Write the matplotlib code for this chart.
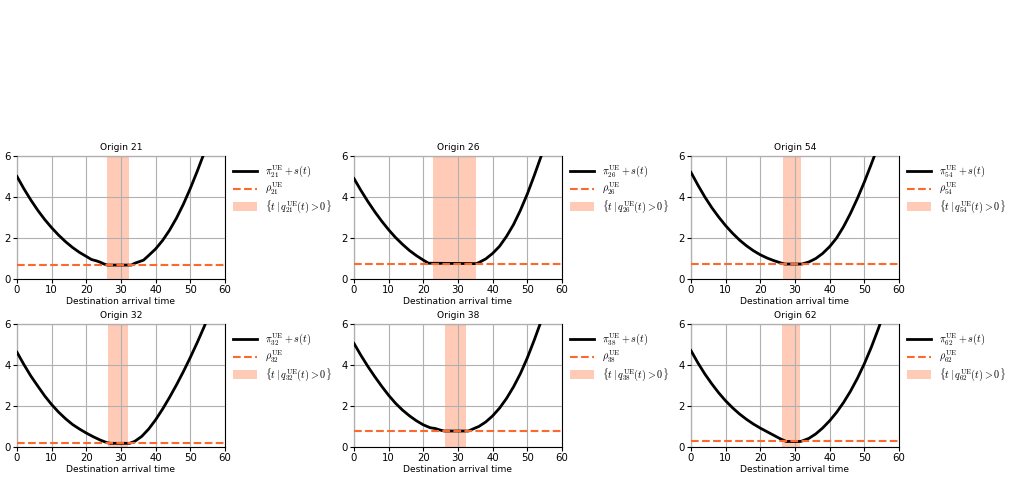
import matplotlib
matplotlib.use("Agg")
import matplotlib.pyplot as plt
from matplotlib.lines import Line2D
from matplotlib.patches import Patch

plt.rcParams['mathtext.fontset'] = 'cm'

origins = [21, 26, 54, 32, 38, 62]

t_21 = [0, 2, 4, 6, 8, 10, 12, 14, 16, 18, 20, 21.5, 23, 24, 25, 26, 33, 34, 35.5, 36.5, 38, 40, 42, 44, 46, 48, 50, 52, 54]
v_21 = [5.0, 4.4, 3.85, 3.35, 2.9, 2.5, 2.14, 1.82, 1.54, 1.3, 1.1, 0.95, 0.88, 0.82, 0.74, 0.68, 0.68, 0.77, 0.86, 0.92, 1.15, 1.47, 1.88, 2.38, 2.97, 3.65, 4.42, 5.26, 6.15]

t_26 = [0, 2, 4, 6, 8, 10, 12, 14, 16, 18, 20, 21.5, 35.3, 36, 38, 40, 42, 44, 46, 48, 50, 52, 54]
v_26 = [4.9, 4.32, 3.78, 3.28, 2.82, 2.4, 2.02, 1.69, 1.39, 1.14, 0.92, 0.77, 0.75, 0.8, 0.98, 1.25, 1.6, 2.08, 2.65, 3.35, 4.15, 5.05, 6.0]

t_54 = [0, 2, 4, 6, 8, 10, 12, 14, 16, 18, 20, 22, 24, 26, 27, 32, 34, 36, 38, 40, 42, 44, 46, 48, 50, 52, 54]
v_54 = [5.2, 4.58, 4.0, 3.48, 3.02, 2.6, 2.23, 1.9, 1.62, 1.38, 1.18, 1.02, 0.89, 0.78, 0.73, 0.73, 0.83, 1.0, 1.25, 1.58, 2.0, 2.55, 3.2, 3.93, 4.73, 5.6, 6.5]

t_32 = [0, 2, 4, 6, 8, 10, 12, 14, 16, 18, 20, 22, 24, 26, 27, 32.5, 34, 36, 38, 40, 42, 44, 46, 48, 50, 52, 54, 56]
v_32 = [4.62, 4.02, 3.46, 2.97, 2.49, 2.07, 1.7, 1.38, 1.1, 0.88, 0.68, 0.5, 0.34, 0.21, 0.18, 0.18, 0.28, 0.52, 0.88, 1.33, 1.85, 2.42, 3.03, 3.68, 4.37, 5.1, 5.87, 6.7]

t_38 = [0, 2, 4, 6, 8, 10, 12, 14, 16, 18, 20, 22, 23.5, 25, 26, 33, 35, 36, 38, 40, 42, 44, 46, 48, 50, 52, 54]
v_38 = [5.05, 4.47, 3.93, 3.43, 2.96, 2.52, 2.13, 1.8, 1.52, 1.28, 1.08, 0.94, 0.9, 0.82, 0.78, 0.78, 0.93, 1.0, 1.22, 1.52, 1.9, 2.37, 2.93, 3.58, 4.35, 5.22, 6.15]

t_62 = [0, 2, 4, 6, 8, 10, 12, 14, 16, 18, 20, 22, 24, 26, 27.5, 31.5, 32, 34, 36, 38, 40, 42, 44, 46, 48, 50, 52, 54, 56]
v_62 = [4.7, 4.1, 3.56, 3.08, 2.64, 2.25, 1.91, 1.61, 1.35, 1.12, 0.92, 0.74, 0.56, 0.38, 0.27, 0.27, 0.29, 0.42, 0.64, 0.93, 1.28, 1.69, 2.17, 2.72, 3.35, 4.06, 4.86, 5.75, 6.7]

rho = {21: 0.68, 26: 0.75, 54: 0.73, 32: 0.18, 38: 0.78, 62: 0.27}
queue_start = {21: 26.1, 26: 22.8, 54: 26.4, 32: 26.3, 38: 26.3, 62: 26.2}
queue_end = {21: 32.4, 26: 35.1, 54: 31.8, 32: 32.0, 38: 32.4, 62: 31.5}

curves = {21: (t_21, v_21), 26: (t_26, v_26), 54: (t_54, v_54),
          32: (t_32, v_32), 38: (t_38, v_38), 62: (t_62, v_62)}

xticks = [0, 10, 20, 30, 40, 50, 60]
yticks = [0, 2, 4, 6]

W, H = 1010, 480
fig = plt.figure(figsize=(W / 100, H / 100), dpi=100)

col_x = [17, 354, 691]
row_y = [156, 324]
aw, ah = 208, 123

shade_col = (1.0, 0.63, 0.48)
dash_col = '#fb6a2c'

for i, o in enumerate(origins):
    r, c = divmod(i, 3)
    x0 = col_x[c]
    y0 = row_y[r]
    ax = fig.add_axes([x0 / W, 1 - (y0 + ah) / H, aw / W, ah / H])
    ax.axvspan(queue_start[o], queue_end[o], color=shade_col, alpha=0.55, lw=0, zorder=1)
    ax.grid(True, color='#b0b0b0', lw=0.8, zorder=0)
    ax.set_axisbelow(False)
    t, v = curves[o]
    ax.plot(t, v, color='black', lw=2, zorder=3, solid_joinstyle='round')
    ax.axhline(rho[o], color=dash_col, ls='--', lw=1.5, zorder=4)
    ax.set_xlim(0, 60)
    ax.set_ylim(0, 6)
    ax.set_xticks(xticks)
    ax.set_yticks(yticks)
    ax.tick_params(labelsize=7.3, length=3, pad=1.5)
    ax.set_title(f'Origin {o}', fontsize=6.6, pad=4)
    ax.set_xlabel('Destination arrival time', fontsize=6.6, labelpad=1)
    handles = [
        Line2D([0], [0], color='black', lw=2),
        Line2D([0], [0], color=dash_col, ls='--', lw=1.5),
        Patch(facecolor=shade_col, alpha=0.55, edgecolor='none'),
    ]
    labels = [
        r'$\pi_{%d}^{\mathrm{UE}} + s(t)$' % o,
        r'$\rho_{%d}^{\mathrm{UE}}$' % o,
        r'$\{t \mid q_{%d}^{\mathrm{UE}}(t) > 0\}$' % o,
    ]
    ax.legend(handles, labels, loc='upper left', bbox_to_anchor=(1.0, 1.0),
              borderaxespad=0.38, frameon=False, fontsize=7.3, handlelength=2.35,
              handleheight=1.0, handletextpad=0.83, labelspacing=0.1)

fig.savefig('out.png', dpi=100)
